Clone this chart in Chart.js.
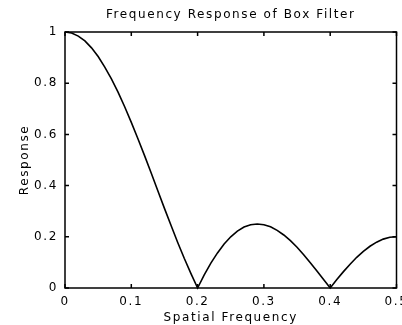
<!DOCTYPE html>
<html>
<head>
<meta charset="utf-8">
<script src="https://cdn.jsdelivr.net/npm/chart.js@4.4.0/dist/chart.umd.min.js"></script>
<style>
  html, body { margin: 0; padding: 0; background: #fff; }
  #wrap { width: 402px; height: 325px; }
</style>
</head>
<body>
<div id="wrap"><canvas id="chart"></canvas></div>
<script>
// spatial frequency samples (x) and response (y)
var freq = [0, 0.01, 0.02, 0.03, 0.04, 0.05, 0.06, 0.07, 0.08, 0.09,
  0.10, 0.11, 0.12, 0.13, 0.14, 0.15, 0.16, 0.17, 0.18, 0.19,
  0.20, 0.21, 0.22, 0.23, 0.24, 0.25, 0.26, 0.27, 0.28, 0.29,
  0.30, 0.31, 0.32, 0.33, 0.34, 0.35, 0.36, 0.37, 0.38, 0.39,
  0.40, 0.41, 0.42, 0.43, 0.44, 0.45, 0.46, 0.47, 0.48, 0.49, 0.50];
var response = [1, 0.996, 0.984, 0.965, 0.938, 0.904, 0.863, 0.817, 0.765, 0.708,
  0.647, 0.583, 0.517, 0.449, 0.380, 0.311, 0.244, 0.178, 0.115, 0.056,
  0, 0.051, 0.097, 0.137, 0.172, 0.200, 0.222, 0.238, 0.247, 0.250,
  0.247, 0.239, 0.225, 0.207, 0.185, 0.159, 0.130, 0.099, 0.066, 0.033,
  0, 0.033, 0.064, 0.093, 0.120, 0.143, 0.163, 0.179, 0.191, 0.198, 0.200];

var chartTitle = 'Frequency Response of Box Filter';
var xTitle = 'Spatial Frequency';
var yTitle = 'Response';

var points = [];
for (var i = 0; i < freq.length; i++) {
  points.push({ x: freq[i], y: response[i] });
}

var FONT = 'DejaVu Sans';
var SIZE = 12;

// letter spacing on all text, the reference font is spread out
var spacing = {
  id: 'spacing',
  beforeLayout: function (chart) { chart.ctx.letterSpacing = '1.6px'; },
  beforeDraw: function (chart) { chart.ctx.letterSpacing = '1.6px'; }
};

// centre the title over the plot area, not the whole canvas
var titleOverPlot = {
  id: 'titleOverPlot',
  afterLayout: function (chart) {
    if (chart.titleBlock) {
      chart.titleBlock.left = chart.chartArea.left;
      chart.titleBlock.right = chart.chartArea.right;
    }
  }
};

// box round the plot + inward tick marks on all four sides
var frame = {
  id: 'frame',
  afterDatasetsDraw: function (chart) {
    var ctx = chart.ctx;
    var a = chart.chartArea;
    var xs = chart.scales.x, ys = chart.scales.y;
    var len = 4;
    ctx.save();
    ctx.strokeStyle = '#000';
    ctx.lineWidth = 1.5;
    ctx.strokeRect(a.left, a.top, a.right - a.left, a.bottom - a.top);
    ctx.beginPath();
    xs.ticks.forEach(function (t) {
      var px = xs.getPixelForValue(t.value);
      ctx.moveTo(px, a.bottom); ctx.lineTo(px, a.bottom - len);
      ctx.moveTo(px, a.top); ctx.lineTo(px, a.top + len);
    });
    ys.ticks.forEach(function (t) {
      var py = ys.getPixelForValue(t.value);
      ctx.moveTo(a.left, py); ctx.lineTo(a.left + len, py);
      ctx.moveTo(a.right, py); ctx.lineTo(a.right - len, py);
    });
    ctx.stroke();
    ctx.restore();
  }
};

function plainNum(v) {
  return String(+v.toFixed(2));
}

var ctx = document.getElementById('chart').getContext('2d');
var chart = new Chart(ctx, {
  type: 'line',
  data: {
    datasets: [{
      data: points,
      borderColor: '#000',
      borderWidth: 1.6,
      pointRadius: 0,
      tension: 0,
      fill: false,
      clip: false
    }]
  },
  options: {
    responsive: true,
    maintainAspectRatio: false,
    animation: false,
    layout: { padding: { left: 0, right: 5.5, top: 0, bottom: 0 } },
    plugins: {
      legend: { display: false },
      tooltip: { enabled: false },
      title: {
        display: true,
        text: chartTitle,
        color: '#000',
        font: { family: FONT, size: SIZE, weight: 'normal', lineHeight: 1.2 },
        padding: { top: 7.8, bottom: 9.8 }
      }
    },
    scales: {
      x: {
        type: 'linear',
        min: 0,
        max: 0.5,
        grid: { display: false, drawTicks: false },
        border: { display: false },
        ticks: {
          stepSize: 0.1,
          color: '#000',
          padding: 7,
          maxRotation: 0,
          font: { family: FONT, size: SIZE },
          callback: plainNum
        },
        title: {
          display: true,
          text: xTitle,
          color: '#000',
          font: { family: FONT, size: SIZE, lineHeight: 1.2 },
          padding: { top: 0, bottom: 0 }
        },
        afterFit: function (scale) {
          scale.height = 37;
          scale.paddingLeft = 0;
          scale.paddingRight = 0;
        }
      },
      y: {
        min: 0,
        max: 1,
        grid: { display: false, drawTicks: false },
        border: { display: false },
        ticks: {
          stepSize: 0.2,
          color: '#000',
          padding: 7,
          font: { family: FONT, size: SIZE },
          callback: plainNum
        },
        title: {
          display: true,
          text: yTitle,
          color: '#000',
          font: { family: FONT, size: SIZE, lineHeight: 1.2 },
          padding: { top: 18, bottom: 0 }
        },
        afterFit: function (scale) {
          scale.width = 65;
          scale.paddingTop = 0;
          scale.paddingBottom = 0;
        }
      }
    }
  },
  plugins: [spacing, titleOverPlot, frame]
});
</script>
</body>
</html>
